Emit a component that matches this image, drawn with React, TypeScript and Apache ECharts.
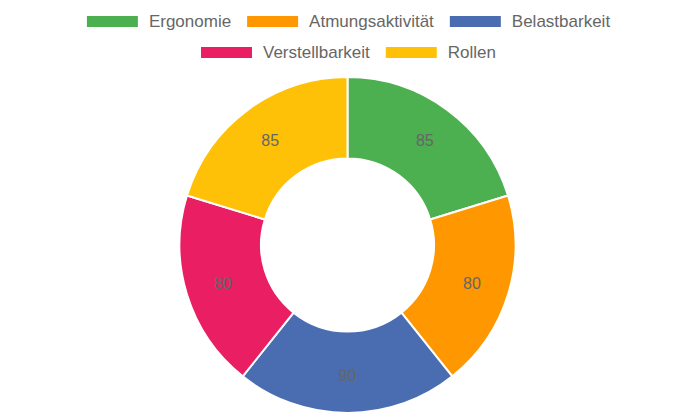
import React, { useEffect, useRef } from "react";
import * as echarts from "echarts";

const categories = ["Ergonomie", "Atmungsaktivität", "Belastbarkeit", "Verstellbarkeit", "Rollen"];
const values = [85, 80, 90, 80, 85];
const colors = ["#4caf50", "#ff9800", "#4a6cb0", "#e91e63", "#ffc107"];
const legendRow1 = categories.slice(0, 3);
const legendRow2 = categories.slice(3);

const FONT = "Liberation Sans, Arial, sans-serif";

export default function App() {
  const ref = useRef<HTMLDivElement>(null);
  useEffect(() => {
    const chart = echarts.init(ref.current!, null, { renderer: "svg" });
    const legendBase = {
      itemWidth: 53,
      itemHeight: 13,
      itemGap: 14,
      icon: "rect",
      padding: 0,
      left: "center",
      textStyle: { fontSize: 17, color: "#666", fontFamily: FONT, padding: [0, 0, 0, 5] },
    };
    chart.setOption({
      animation: false,
      color: colors,
      textStyle: { fontFamily: FONT },
      legend: [
        { ...legendBase, top: 13, data: legendRow1 },
        { ...legendBase, top: 44, data: legendRow2 },
      ],
      series: [
        {
          type: "pie",
          center: [347.5, 245],
          radius: [86.5, 168],
          startAngle: 90,
          clockwise: true,
          itemStyle: { borderColor: "#fff", borderWidth: 2 },
          label: {
            show: true,
            position: "inside",
            formatter: "{c}",
            color: "#666",
            fontSize: 16,
            fontFamily: FONT,
          },
          labelLine: { show: false },
          emphasis: { disabled: true },
          data: categories.map((name, i) => ({ name, value: values[i] })),
        },
      ],
    });
    return () => chart.dispose();
  }, []);
  return <div ref={ref} style={{ width: 695, height: 417, position: "absolute", left: 0, top: 0 }} />;
}
